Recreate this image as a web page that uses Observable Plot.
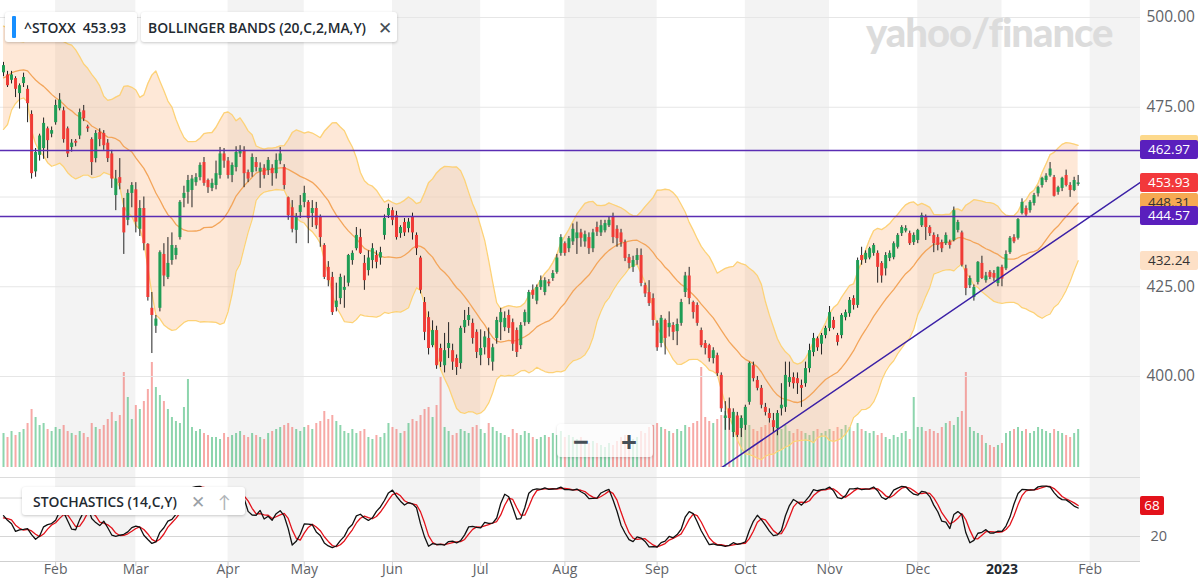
<!DOCTYPE html>
<html>
<head>
<meta charset="utf-8">
<title>^STOXX · Bollinger Bands · Stochastics</title>
<script src="https://cdn.jsdelivr.net/npm/d3@7"></script>
<script src="https://cdn.jsdelivr.net/npm/@observablehq/plot@0.6"></script>
<style>
  html, body { margin: 0; padding: 0; background: #fff; }
  #chart { position: relative; width: 1200px; height: 588px; overflow: hidden; font-family: "Open Sans", Lato, sans-serif; }
  #chart > svg { position: absolute; left: 0; overflow: visible; }
  .chip { position: absolute; background: #fff; border-radius: 3px; box-sizing: border-box;
          box-shadow: 0 1px 3px rgba(0,0,0,.22); display: flex; align-items: center;
          font-size: 13.9px; font-weight: 600; color: #232a31; white-space: nowrap; }
  .tag { position: absolute; left: 1140px; width: 58px; height: 19px; line-height: 19px; text-align: center;
         font-size: 13.5px; border-radius: 2px; }
  .mark { position: absolute; left: 866px; top: 8px; font-family: Lato, "Open Sans", sans-serif; font-weight: 900;
          font-size: 40px; letter-spacing: -1px; color: #dcdcdc; }
  .zoomer { position: absolute; left: 557px; top: 424px; width: 96px; height: 33px; border-radius: 4px;
            background: rgba(255,255,255,.75); box-shadow: 0 1px 3px rgba(0,0,0,.15);
            display: flex; justify-content: space-around; align-items: center; color: #464e56;
            font-size: 28px; font-weight: 700; }
</style>
</head>
<body>
<div id="chart"></div>
<script>
// ---- Daily prices [open, high, low, close] ----
// Warm-up sessions (14 Dec 2021 – 12 Jan 2022) used only by the indicators
const leadIn = [
  [476,477,470,471.5],[471,474,469,473.5],[475,481,474.5,479.5],[478,478.5,471,472],[469,469.5,463,465],
  [467,472.5,466.5,472],[471.5,476,471,475.5],[477,481,476.5,480.5],[480.5,482,480,481.5],[481.5,484,481,483.5],
  [484,487.5,483.5,486.5],[486,487.5,484,486],[486.5,488,485.5,487],[487,488,486,487.8],[488.5,491.5,488,491],
  [492,494.5,491,494.3],[494,495,492,492.5],[487.5,489,484.5,486.5],[486.5,488,483.5,484.5],[483,484,476.5,479.5],
  [480,485.5,479.5,485],[486,488,485,487]
];
// Sessions drawn on the chart (13 Jan 2022 – 27 Jan 2023)
const ohlc = [
  // Jan 2022
  [484.6,487.5,483.5,486.6],[484,485,480.5,481],[482.5,485,481.5,484],[483,483.5,477.7,480],[478.8,481.5,474.5,481],
  [481.6,484.5,480.5,483.3],[480,481,470.7,476],[473,474,455,456.5],[457,463.5,455.5,462.4],[461.6,467.5,460,467],
  [463.5,472,460.5,470.5],[469,469.5,460.7,465.7],[467.5,469.5,466.5,468.5],
  // Feb
  [470.7,477,470,475.5],[474.6,478.8,474,477],[474,475,465,466],[469,469.5,461,462],[463.8,466,462.5,465],
  [465.5,466,464,465],[467,474.5,466,473.5],[474,475.5,471,471.8],[469.5,470,468,469],[466,466.5,456,459.6],
  [460.7,468.5,459.5,467.7],[468,469,464,466],[467.7,468.5,463,464.3],[465,466,459.6,460.7],[462,463,452.4,455],
  [450.4,457.4,446.2,455],[455.4,460.7,452,453.8],[447,449.6,434,440],[443.5,452,442,451],[451,454,447,453.2],
  // Mar
  [452,454,440,443],[441,449,439,446.8],[446.8,450,435,437],[436.8,437,421,422],[419,423.4,406.4,417],
  [414,417,412,416],[419,435,418,434.5],[434,437,425,428],[427.6,438.7,427,431.5],[432.3,440,431,436.5],
  [433.7,436.5,432.5,435.7],[438.7,449,438,448.5],[449.6,453,447,451],[451.3,456,448,454.6],[451.8,456,447,455],
  [454,456.5,453,455.4],[455.4,459.5,454.5,458.8],[459.6,461,453,453.8],[454.6,455,451,452.6],[452.4,455,451.5,453.8],
  [453.2,460,452,456.5],[456,463.8,455,462],[462,463.5,458,460],
  // Apr
  [460,461,455,456],[456,459.5,454,458.8],[458.2,464,457,462.4],[462,464.3,461,463],[463,464,452.6,456.5],
  [456.8,457.5,454,455],[456.8,462,455.5,461],[459.6,461,457,458.2],[457,459.5,452.4,458],[458,459,455,456],
  [457.4,461,456,460.2],[458,459,453,456.5],[456.5,462,455,460.2],[460,463.8,459,462],[458.2,459,452,453.2],
  [449.8,450,443.5,444.8],[447,449,440,441],[440.7,445.4,437,444.3],[445.7,450.4,444,447.6],
  // May
  [448.5,453,447,451],[448.5,449,437,444],[445.4,449,441.5,446.8],[446.8,448.5,441,442],[444.3,445,436,438.7],
  [436.5,437,427,427.6],[430.4,432,425,426.7],[427.6,429,417,417.8],[419.2,426,418,421],[421.7,428.5,420,427.6],
  [424,428,419,424.8],[426,434,425,433.7],[432.3,435,431,434.3],[435.6,441.5,435,439.3],[438.7,441,434,434.3],
  [431.5,433.7,424,426.7],[429.5,435,428,433],[432.3,437,430,435.6],[433.7,435,430,431.8],[433,436,431,434.5],
  [439.3,445,438,444],[444.8,448,444,446.8],
  // Jun
  [446.2,447,442,443.5],[444.8,446,438,438.7],[439.8,442,438.5,441.5],[442.9,444,439,440],[441.2,444,440,443],
  [444.3,445.5,438,440],[439.3,440,433.7,435.6],[433,433.5,423,424],[420.6,422,410,412.3],[416.4,418,406,407.8],
  [408.6,415.5,408,412.8],[412.8,414,402,403],[407.8,409,402.5,404],[403,412,401,407.2],[407.8,415,405,409.2],
  [407.2,409,401.7,404],[405,406,400.3,402.5],[403.6,414,402,413.4],[413.6,418.4,412,415.6],[415.6,419.2,414,417],
  [414.8,416,409,410.6],[412.3,413,405,406.7],
  // Jul
  [405.8,413,403,407.8],[408,412.5,406,411],[410.6,413.5,403,405],[404,409,401.5,408],[410.6,416.5,409,415.6],
  [415,419,410,417.8],[413.6,418,412.5,416.2],[417,418.5,412,413.4],[415,416,407,409],[412.8,413.5,405.3,406.7],
  [408.6,415,407.5,414.2],[415,418.5,414,417.8],[415,424,414.5,423.4],[424,425.5,421.5,422.6],[421,425.5,420,424.8],
  [424.8,428,424,426.7],[423.4,427.5,422.5,426.7],[426.3,427,425,425.8],[427.3,429.5,426.5,428.7],[429,434,428.5,433],
  [434.3,439.5,433.5,438.7],
  // Aug
  [437,437.5,433.5,434.3],[435.6,439,434.5,438.4],[437.5,442.5,436.5,441],[438.4,443,434,440],[440,441,436,438.5],
  [437.5,440.5,436,439.5],[438.7,440,434,435.6],[435.6,441,434.5,440],[441.5,443,439,440.2],[440,443.5,439,442],
  [440.6,443.5,440,442.6],[442,444.5,441.5,443.5],[444.3,445.5,437,438.7],[441,442,436,438.4],[440,441,436,437.3],
  [437.3,438,432,432.9],[433.1,434,430,431.5],[430.4,433.5,429,432.3],[432.3,435.6,431,433.7],[433.7,435.5,425,425.9],
  [425.3,426,422,423],[423.4,426.7,419.5,420.3],[421.7,423,414,415.6],
  // Sep
  [414.8,415.5,407,408],[409.2,417,408,416.2],[415.6,416,406,410.6],[413.6,418,411,414.8],[414.2,415,410,412.3],
  [412.5,416,408.6,414.5],[414.8,421.5,414,420.6],[423.4,429,422,428],[428,430.4,420,421.7],[420.6,421,416,417.8],
  [419.8,420.5,414,414.8],[412.8,413.5,408,408.6],[409.2,410,406,407.8],[408.6,409,404,405],[405,408,403.5,407.2],
  [405.8,406.5,400,400.8],[400.3,401,390,391],[388.3,393,385,389],[391,394,385,388.3],[384.4,391,383,390],
  [389,390,383,383.6],[385.5,389,383,388.3],
  // Oct
  [386.4,392,385,391.4],[392.8,404,392,403.6],[403,404,398.5,399.4],[398.9,400,396,396.7],[396.7,397.5,391,392],
  [391.4,392.5,389,390],[389.7,391,387,388.3],[387.7,389.7,384.4,385.8],[385.5,390.5,383.5,389.7],[391,398,389,392],
  [391.4,404,390,400.3],[398.3,404,397,399.7],[399.7,401,396.5,398],[399.4,401,395,398],[397.5,399,391.4,396.7],
  [398,404,397,402.2],[402.2,409,401,407.2],[406.7,412,405.5,410.6],[410.5,411,407,408],[409,412,406,411.4],
  [411.4,414,410.5,413.4],
  // Nov
  [413.4,419.5,412.5,417.8],[415.6,416.5,413,413.4],[411.4,412,408.5,409.5],[411.4,417.5,410.5,417],[416.4,418.5,415.5,417.8],
  [417.5,422,416.5,421.2],[421.7,422.5,418.5,419.8],[419.8,433,419,432.3],[433.7,436,431,432.3],[432.5,435,431.5,434.3],
  [433,436,432.5,435.6],[434.3,437,433.5,436.5],[434.3,435,426,430.4],[431.5,432,426,428],[430,434.5,428,433.7],
  [432.9,435,432,434.3],[433.1,437.5,432.5,437],[436,439.8,435.5,439.3],[439.8,442,439,441.5],[440.5,442,440,441.2],
  [439.8,440.5,436.5,437],[437.3,440,436.5,439.3],
  // Dec
  [437.9,441,437,440.7],[442,445.5,441.5,444.8],[444.3,445,437.9,441.5],[441.5,442,439,439.8],[439.3,440,434.5,437],
  [438.7,439.5,435,436.5],[437.3,438,434.5,435.6],[437,440,436.5,439.3],[437.3,438,435.5,436.5],[437.9,447.2,437.5,446.2],
  [440.7,443.5,440,442.9],[440,440.5,430.5,431],[430,431,422.5,424.5],[425.3,428,424.5,427.3],[422,425.5,421,424.8],
  [426.2,432,425.5,431.8],[431.5,433.5,427,427.3],[426.7,429,426,428],[429,429.5,427,427.6],[428.7,429.5,426.5,427.4],
  [425.9,430.5,425,430.4],
  // Jan 2023
  [430.4,431,425,427.15],[430,435,429.5,434],[434.5,439,434,438.5],[438.7,439.5,437,437.5],[438.5,444,438,443.7],
  [445.4,449.5,445,448.5],[446.8,447.5,444.5,445],[446.2,449,445.5,448.5],[448.2,451,447.5,450.4],[450.9,453,450,452.6],
  [453.2,455.5,452.5,455.2],[454.6,456.5,454,455.8],[455.9,459.6,455.5,457.8],[455.4,456,450,450.2],[451.3,453,450.5,452.6],
  [452.4,455.5,451.5,455.2],[456,457.5,452.8,453.2],[453.2,454,449.9,451.8],[451.8,455.5,451.5,454.6],[453.5,456,453,453.93]
];
// Daily volume (millions)
const volumes = [
  34,30,36,32,35,38,44,58,50,42,44,38,36,
  40,38,42,36,34,32,36,34,30,44,40,38,42,48,55,46,52,95,70,48,
  62,58,66,78,105,80,72,66,58,50,46,44,60,88,40,36,38,34,32,30,30,28,34,
  30,32,34,36,32,30,34,32,30,28,34,36,38,40,42,44,40,38,36,
  40,42,38,44,46,56,48,52,46,42,36,34,38,34,36,38,30,28,32,30,34,44,
  40,38,34,36,44,48,46,52,58,60,50,62,90,40,36,32,34,38,36,34,40,42,
  38,34,44,40,36,34,32,30,38,34,32,36,34,30,28,30,32,30,34,32,36,
  30,32,30,28,30,26,24,26,24,22,20,24,22,26,30,32,30,28,30,36,34,40,42,
  44,40,38,36,34,38,36,42,40,44,46,100,50,46,44,48,52,56,54,50,48,52,
  46,42,38,36,40,42,44,46,40,38,42,36,34,38,36,34,32,36,38,34,36,
  38,36,40,38,42,40,36,44,38,36,34,36,32,34,30,28,32,30,34,36,28,70,
  40,40,36,38,36,34,40,44,46,42,50,56,95,40,36,34,32,24,22,20,22,
  24,34,36,38,40,36,38,34,36,40,38,36,34,38,36,34,32,30,34,38
];
const holidays = ["2022-04-15", "2022-04-18", "2022-12-26"];
const monthNames = ["Jan","Feb","Mar","Apr","May","Jun","Jul","Aug","Sep","Oct","Nov","Dec"];
const priceTicks = [400, 425, 450, 475, 500];
const priceLabels = [400, 425, 475, 500];   // 450 sits under the value tags
const stochTicks = [20, 80];
const stochLabels = [20];                    // 80 sits under the %D tag
const levels = [462.97, 444.57];                                   // horizontal price levels
const trendAnchors = [["2022-10-14", 385.96], ["2022-12-19", 420.97]]; // rising support line

// ---- palette ----
const UP = "#1f9d55", DOWN = "#ef3b36";
const VUP = "#2fb36a", VDOWN = "#f0625d";

// ---- trading calendar ----
function tradingDays(from, to, skip) {
  const out = [];
  const end = new Date(to + "T00:00:00Z");
  for (let d = new Date(from + "T00:00:00Z"); d <= end; d.setUTCDate(d.getUTCDate() + 1)) {
    const s = d.toISOString().slice(0, 10), wd = d.getUTCDay();
    if (wd !== 0 && wd !== 6 && !skip.includes(s)) out.push(s);
  }
  return out;
}
const days = tradingDays("2022-01-13", "2023-02-28", holidays);

const candles = ohlc.map(([open, high, low, close], i) =>
  ({i, date: days[i], open, high, low, close, volume: volumes[i], up: close >= open}));

// ---- indicators ----
const series = leadIn.concat(ohlc);
const off = leadIn.length;
const bands = candles.map(({i}) => {
  const w = series.slice(i + off - 19, i + off + 1).map(r => r[3]);
  const mid = d3.mean(w);
  const sd = Math.sqrt(d3.mean(w, v => (v - mid) ** 2));
  return {i, mid, upper: mid + 2 * sd, lower: mid - 2 * sd};
});
const rawK = series.map((r, j) => {
  if (j < 13) return NaN;
  const win = series.slice(j - 13, j + 1);
  const hh = d3.max(win, d => d[1]), ll = d3.min(win, d => d[2]);
  return 100 * (r[3] - ll) / (hh - ll);
});
const sma3 = a => a.map((v, j) => j < 2 ? NaN : (a[j] + a[j - 1] + a[j - 2]) / 3);
const kLine = sma3(rawK), dLine = sma3(kLine);
const stoch = candles.map(({i}) => ({i, k: kLine[i + off], d: dLine[i + off]}));

// ---- month ticks and alternating month shading ----
const xDomain = [-0.75, 283.55];
const monthTicks = [];
for (let i = 1; i < days.length; i++) {
  if (days[i].slice(5, 7) !== days[i - 1].slice(5, 7)) {
    const m = +days[i].slice(5, 7) - 1;
    monthTicks.push({i, m, label: m === 0 ? days[i].slice(0, 4) : monthNames[m], year: m === 0});
  }
}
const stripes = monthTicks
  .map((t, k) => ({x1: t.i, x2: k + 1 < monthTicks.length ? monthTicks[k + 1].i : xDomain[1], m: t.m}))
  .filter(s => s.m % 2 === 1);

// ---- trend line through the two anchors, spanning the whole x range ----
const ta = trendAnchors.map(([date, p]) => ({i: days.indexOf(date), p}));
const slope = (ta[1].p - ta[0].p) / (ta[1].i - ta[0].i);
const trend = xDomain.map(i => ({i, p: ta[0].p + slope * (i - ta[0].i)}));

const font = '"Open Sans", Lato, sans-serif';
const common = {
  width: 1200, marginLeft: 0, marginRight: 60,
  x: {domain: xDomain, axis: null, label: null},
  style: {background: "transparent", fontFamily: font, overflow: "visible"}
};

// background: month shading + volume histogram (1px per million, baseline at the price panel bottom)
const bg = Plot.plot({
  ...common, height: 561, marginTop: 0, marginBottom: 0,
  y: {domain: [-94, 467], axis: null},
  marks: [
    Plot.rect(stripes, {x1: "x1", x2: "x2", fill: "#f3f3f3"}),
    Plot.ruleX(candles, {x: "i", y1: 0, y2: "volume", stroke: d => d.up ? VUP : VDOWN, strokeWidth: 2, strokeOpacity: 0.55})
  ]
});

// price panel
const main = Plot.plot({
  ...common, height: 467, marginTop: 0, marginBottom: 0,
  y: {domain: [374.65, 504.74], axis: null, label: null},
  marks: [
    Plot.ruleY(priceTicks, {stroke: "#e6e6e6"}),
    Plot.areaY(bands, {x: "i", y1: "lower", y2: "upper", fill: "#fbb27a", fillOpacity: 0.3}),
    Plot.lineY(bands, {x: "i", y: "upper", stroke: "#fdd277", strokeWidth: 1.3}),
    Plot.lineY(bands, {x: "i", y: "lower", stroke: "#fdd277", strokeWidth: 1.3}),
    Plot.lineY(bands, {x: "i", y: "mid", stroke: "#f3a55a", strokeWidth: 1.3}),
    Plot.ruleX(candles, {x: "i", y1: "low", y2: "high", stroke: "#222", strokeWidth: 1}),
    Plot.ruleX(candles, {x: "i", y1: "open", y2: "close", stroke: d => d.up ? UP : DOWN, strokeWidth: 3}),
    Plot.ruleY(levels, {stroke: "#5a2db3", strokeWidth: 1.5}),
    Plot.line(trend, {x: "i", y: "p", stroke: "#3b20a6", strokeWidth: 1.5, clip: true}),
    Plot.axisY(priceLabels, {anchor: "right", tickSize: 0, tickPadding: 6, fontSize: 15.5, color: "#5f6368",
                             tickFormat: d => d.toFixed(2), label: null})
  ]
});

// stochastics panel
const st = Plot.plot({
  ...common, height: 118, marginTop: 7, marginBottom: 27,
  y: {domain: [-19, 112], axis: null, label: null},
  marks: [
    Plot.ruleY([112], {stroke: "#dcdcdc"}),
    Plot.ruleY(stochTicks, {stroke: "#d6d6d6"}),
    Plot.ruleY([-19], {stroke: "#cfcfcf"}),
    Plot.lineY(stoch, {x: "i", y: "d", stroke: "#e3121b", strokeWidth: 1.3}),
    Plot.lineY(stoch, {x: "i", y: "k", stroke: "#111", strokeWidth: 1.3}),
    Plot.axisX(monthTicks.map(t => t.i), {tickSize: 5, tickFormat: () => "", stroke: "#cfcfcf", label: null}),
    Plot.text(monthTicks.filter(t => !t.year), {x: "i", text: "label", frameAnchor: "bottom", dy: 12,
                                                 fontSize: 14, fill: "#5f6368"}),
    Plot.text(monthTicks.filter(t => t.year), {x: "i", text: "label", frameAnchor: "bottom", dy: 12,
                                                fontSize: 14, fontWeight: 700, fill: "#232a31"}),
    Plot.axisY(stochLabels, {anchor: "right", tickSize: 0, tickPadding: 10, fontSize: 14.5, color: "#5f6368", label: null})
  ]
});

const root = document.getElementById("chart");
bg.style.top = "0px"; main.style.top = "0px"; st.style.top = "470px";
root.append(bg, main, st);

// ---- value tags on the right edge ----
const yP = v => main.scale("y").apply(v);
const yS = v => 470 + st.scale("y").apply(v);
const lastB = bands[bands.length - 1];
const lastS = stoch[stoch.length - 1];
const lastC = candles[candles.length - 1];
const prevC = candles[candles.length - 2];
function tag(v, y, bg, fg, width) {
  const el = document.createElement("div");
  el.className = "tag";
  el.textContent = v;
  el.style.top = (y - 9.5) + "px";
  el.style.background = bg;
  el.style.color = fg;
  if (width) el.style.width = width + "px";
  root.append(el);
  return el;
}
// the upper-band tag sits underneath the 462.97 level tag; only its edge shows
tag("", yP(lastB.upper), "#fdd98c", "#333");
tag(lastB.lower.toFixed(2), yP(lastB.lower), "#fde0c6", "#333");
tag(lastB.mid.toFixed(2), yP(lastB.mid), "#f6a953", "#333");
tag(levels[0].toFixed(2), yP(levels[0]), "#5a1fbd", "#fff");
tag(lastC.close.toFixed(2), yP(lastC.close), lastC.close < prevC.close ? "#f2383b" : "#1f9d55", "#fff");
tag(levels[1].toFixed(2), yP(levels[1]), "#5a1fbd", "#fff");
tag(Math.round(lastS.d), yS(lastS.d), "#e3121b", "#fff", 24);

// ---- overlays: legends, watermark, zoom control ----
root.insertAdjacentHTML("beforeend", `
  <div class="mark">yahoo/finance</div>
  <div class="chip" style="left:5px;top:12px;width:132px;height:30px;">
    <span style="display:inline-block;width:4px;height:22px;background:#188fff;border-radius:1px;margin:0 8px 0 7px;"></span>
    <span>^STOXX</span><span style="margin-left:7px;">${lastC.close.toFixed(2)}</span>
  </div>
  <div class="chip" style="left:141px;top:12px;width:256px;height:30px;padding-left:7px;">
    <span>BOLLINGER BANDS (20,C,2,MA,Y)</span><span style="margin-left:12px;color:#464e56;font-weight:400;font-size:17px;">&#x2715;</span>
  </div>
  <div class="chip" style="left:22px;top:487px;width:223px;height:28px;padding-left:11px;">
    <span>STOCHASTICS (14,C,Y)</span>
    <span style="margin-left:14px;color:#9aa0a6;font-weight:400;font-size:17px;">&#x2715;</span>
    <span style="margin-left:13px;color:#b0b4b8;font-weight:400;font-size:17px;">&#x2191;</span>
  </div>
  <div class="zoomer"><span>&minus;</span><span>+</span></div>
`);
</script>
</body>
</html>
